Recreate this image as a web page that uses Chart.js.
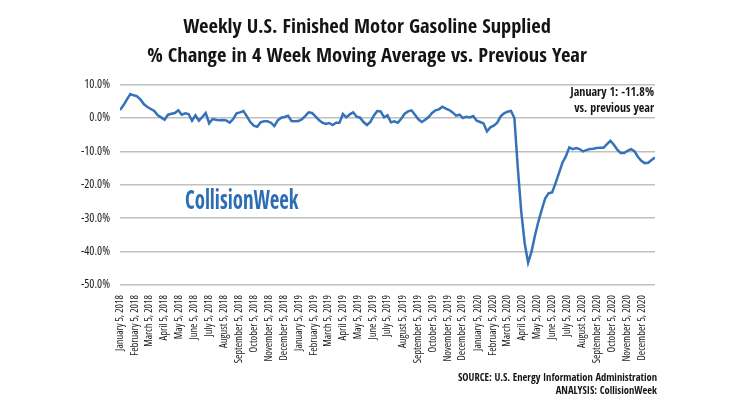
<!DOCTYPE html>
<html>
<head>
<meta charset="utf-8">
<script src="https://cdn.jsdelivr.net/npm/chart.js@4.4.1/dist/chart.umd.min.js"></script>
<style>
    html, body { margin: 0; padding: 0; background: #fff; }
</style>
</head>
<body>
<canvas id="gasChart" width="740" height="400"></canvas>
<script>
// データ
const startDate = new Date(2018, 0, 5);

const monthLabels = [
    'January 5, 2018', 'February 5, 2018', 'March 5, 2018', 'April 5, 2018', 'May 5, 2018', 'June 5, 2018',
    'July 5, 2018', 'August 5, 2018', 'September 5, 2018', 'October 5, 2018', 'November 5, 2018', 'December 5, 2018',
    'January 5, 2019', 'February 5, 2019', 'March 5, 2019', 'April 5, 2019', 'May 5, 2019', 'June 5, 2019',
    'July 5, 2019', 'August 5, 2019', 'September 5, 2019', 'October 5, 2019', 'November 5, 2019', 'December 5, 2019',
    'January 5, 2020', 'February 5, 2020', 'March 5, 2020', 'April 5, 2020', 'May 5, 2020', 'June 5, 2020',
    'July 5, 2020', 'August 5, 2020', 'September 5, 2020', 'October 5, 2020', 'November 5, 2020', 'December 5, 2020'
];

// 週次 % 変化（2018/1/5 〜 2021/1/1）
const weeklyChange = [
    2.4, 3.8, 5.5, 7.2, 6.8, 6.5, 5.5, 4.1, 3.3, 2.7,
    2.1, 0.8, 0.2, -0.5, 1.0, 1.3, 1.5, 2.3, 1.0, 1.4,
    1.2, -0.8, 0.8, -0.8, 0.3, 1.5, -1.6, -0.3, -0.5, -0.7,
    -0.6, -0.7, -1.4, -0.3, 1.4, 1.7, 2.1, 0.5, -1.2, -2.3,
    -2.6, -1.3, -1.0, -1.0, -1.4, -2.4, -0.7, 0.1, 0.3, 0.7,
    -0.9, -1.0, -0.9, -0.4, 0.6, 1.7, 1.5, 0.5, -0.6, -1.4,
    -1.8, -1.5, -2.1, -1.4, -1.4, 1.2, 0.2, 1.1, 1.7, 0.4,
    0.1, -1.2, -2.1, -1.2, 0.7, 2.1, 2.0, 0.2, 0.8, -1.3,
    -1.0, -1.4, -0.2, 1.3, 2.0, 2.3, 1.0, -0.4, -1.2, -0.5,
    0.3, 1.5, 2.3, 2.6, 3.4, 2.8, 2.4, 1.7, 0.7, 1.0,
    0.0, 0.4, 0.2, 0.6, -0.8, -1.2, -1.6, -4.0, -2.8, -2.3,
    -1.4, 0.5, 1.4, 1.9, 2.1, 0.0, -15.0, -28.0, -37.5, -43.3,
    -40.0, -35.2, -31.0, -27.4, -24.0, -22.5, -22.3, -19.5, -16.5, -13.4,
    -11.5, -8.8, -9.3, -9.0, -9.3, -10.0, -9.6, -9.3, -9.2, -9.0,
    -8.9, -8.9, -7.8, -6.8, -8.0, -9.5, -10.5, -10.5, -9.8, -9.3,
    -9.9, -11.6, -12.8, -13.5, -13.4, -12.6, -11.8
];

const yTickValues = [10, 0, -10, -20, -30, -40, -50];

const titleLines = [
    'Weekly U.S. Finished Motor Gasoline Supplied',
    '% Change in 4 Week Moving Average vs. Previous Year'
];
const noteLines = ['January 1: -11.8%', 'vs. previous year'];
const sourceLines = ['SOURCE: U.S. Energy Information Administration', 'ANALYSIS: CollisionWeek'];
const brandText = 'CollisionWeek';

const NARROW = "'Open Sans Condensed', 'Roboto Condensed', 'DejaVu Sans Condensed', sans-serif";
const TICK_FAMILY = "'Open Sans', Roboto, sans-serif";
const DAY = 24 * 60 * 60 * 1000;

// 月ラベルの位置（週単位）
const monthTicks = monthLabels.map((label, m) => {
    const d = new Date(2018 + Math.floor(m / 12), m % 12, 5);
    return { value: (d - startDate) / (7 * DAY), label: label };
});

// 注記テキスト
const textOverlay = {
    id: 'textOverlay',
    afterDraw(chart) {
        const { ctx, chartArea } = chart;
        ctx.save();
        ctx.fillStyle = '#141414';
        ctx.textAlign = 'right';
        ctx.textBaseline = 'middle';
        ctx.font = 'bold 12px ' + NARROW;
        noteLines.forEach((t, i) => ctx.fillText(t, chartArea.right - 1, 93 + i * 16));
        ctx.font = 'bold 10.5px ' + NARROW;
        sourceLines.forEach((t, i) => ctx.fillText(t, chartArea.right + 2, 378 + i * 13));

        // ロゴ
        ctx.translate(185, 202);
        ctx.scale(0.8, 1);
        ctx.textAlign = 'left';
        ctx.fillStyle = '#2d6db4';
        ctx.font = 'bold 26px ' + NARROW;
        ctx.fillText(brandText, 0, 0);
        ctx.restore();
    }
};

const ctx = document.getElementById('gasChart').getContext('2d');
new Chart(ctx, {
    type: 'line',
    data: {
        datasets: [{
            data: weeklyChange.map((v, i) => ({ x: i, y: v })),
            borderColor: '#3572b8',
            borderWidth: 2.5,
            pointRadius: 0,
            tension: 0,
            fill: false
        }]
    },
    options: {
        responsive: false,
        animation: false,
        devicePixelRatio: 1,
        layout: { padding: { left: 79, right: 85, top: 0, bottom: 0 } },
        scales: {
            x: {
                type: 'linear',
                min: 0,
                max: weeklyChange.length - 1,
                grid: { display: false },
                border: { display: false },
                afterBuildTicks: axis => {
                    axis.ticks = monthTicks.map(t => ({ value: t.value }));
                },
                afterFit: scale => { scale.height = 115; },
                ticks: {
                    autoSkip: false,
                    maxRotation: 90,
                    minRotation: 90,
                    padding: 2,
                    color: '#1a1a1a',
                    font: { family: TICK_FAMILY, size: 10.5, weight: '400 condensed' },
                    callback: (value, index) => monthTicks[index] ? monthTicks[index].label : ''
                }
            },
            y: {
                min: -50,
                max: 10,
                afterBuildTicks: axis => {
                    axis.ticks = yTickValues.map(v => ({ value: v }));
                },
                afterFit: scale => { scale.width = 41; },
                grid: { color: '#c0c0c0', lineWidth: 1.5, drawTicks: false },
                border: { display: false },
                ticks: {
                    padding: 10,
                    color: '#1a1a1a',
                    font: { family: TICK_FAMILY, size: 12, weight: '400 condensed' },
                    callback: value => value.toFixed(1) + '%'
                }
            }
        },
        plugins: {
            legend: { display: false },
            tooltip: { enabled: false },
            title: {
                display: true,
                text: titleLines,
                color: '#141414',
                font: { family: NARROW, size: 20.5, weight: 'bold', lineHeight: 1.43 },
                padding: { top: 13, bottom: 13 }
            }
        }
    },
    plugins: [textOverlay]
});
</script>
</body>
</html>
